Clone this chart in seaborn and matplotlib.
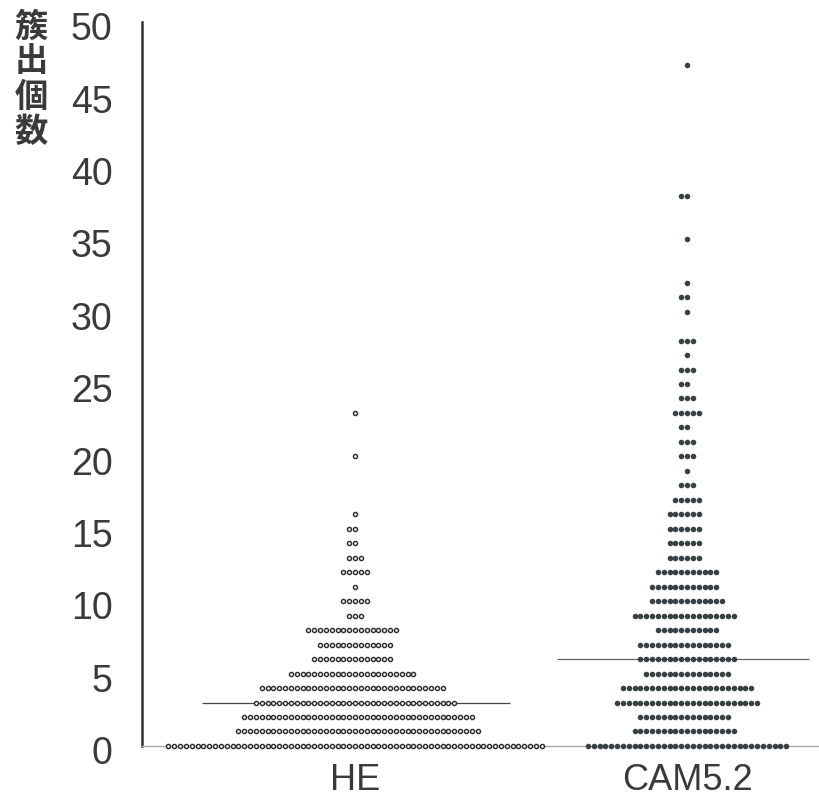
import numpy as np
import pandas as pd
import matplotlib
matplotlib.use("Agg")
import matplotlib.pyplot as plt
import matplotlib.transforms as mtransforms
import seaborn as sns

# values: count level -> number of dots at that level
he_levels = [0, 1, 2, 3, 4, 5, 6, 7, 8, 9, 10, 11, 12, 13, 14, 15, 16, 20, 23]
he_counts = [65, 42, 40, 35, 32, 22, 14, 13, 16, 3, 5, 1, 5, 3, 2, 2, 1, 1, 1]

cam_levels = [0, 1, 2, 3, 4, 5, 6, 7, 8, 9, 10, 11, 12, 13, 14, 15, 16, 17, 18, 19,
              20, 21, 22, 23, 24, 25, 26, 27, 28, 30, 31, 32, 35, 38, 47]
cam_counts = [35, 18, 16, 25, 23, 15, 17, 16, 11, 18, 13, 12, 11, 6, 6, 6, 6, 5, 3, 1,
              3, 3, 2, 5, 3, 2, 3, 1, 3, 1, 2, 1, 1, 2, 1]

groups = ["HE", "CAM5.2"]
ylabel = "簇出個数"

sns.set_style("white")
plt.rcParams["font.family"] = ["Liberation Sans", "Noto Sans CJK JP", "DejaVu Sans"]

he = pd.DataFrame({"pos": 0.0, "val": np.repeat(he_levels, he_counts)})
cam = pd.DataFrame({"pos": 0.5, "val": np.repeat(cam_levels, cam_counts)})

fig = plt.figure(figsize=(8.2, 8.01), dpi=100)
ax = fig.add_axes([0.173, 0.0687, 0.827, 0.9038])

sns.swarmplot(data=he, x="pos", y="val", native_scale=True, orient="x", size=2.95,
              color="white", edgecolor="#2f2f2f", linewidth=1.05, ax=ax)
sns.swarmplot(data=cam, x="pos", y="val", native_scale=True, orient="x", size=4.0,
              color="#384144", edgecolor="#384144", linewidth=0, ax=ax)

for c in ax.collections:
    c.set_clip_on(False)

# median lines
ax.hlines(np.median(he["val"]), -0.23, 0.233, color="#444444", lw=0.9, zorder=0)
ax.hlines(np.median(cam["val"]), 0.304, 0.684, color="#666666", lw=0.9, zorder=0)

ax.set_xlim(-0.321, 0.70)
ax.set_ylim(0, 50)
ax.set_yticks(range(0, 51, 5))
ax.set_xticks([0, 0.5], groups)
ax.set_xlabel("")
ax.set_ylabel("")

ax.tick_params(axis="y", length=10, width=1.6, color="#333333", labelsize=27,
               pad=11, labelcolor="#3a3a3a")
ax.tick_params(axis="x", length=0, labelsize=26, pad=12, labelcolor="#3a3a3a")

# tick labels sit a little below their ticks in the original
shift = mtransforms.ScaledTranslation(0, -3 / 72, fig.dpi_scale_trans)
for lbl in ax.get_yticklabels():
    lbl.set_transform(lbl.get_transform() + shift)

sns.despine(ax=ax)
ax.spines["left"].set_color("#333333")
ax.spines["left"].set_linewidth(1.8)
ax.spines["bottom"].set_color("#aaaaaa")
ax.spines["bottom"].set_linewidth(1.0)

fig.text(0.038, 0.987, "\n".join(ylabel), ha="center", va="top", fontsize=24,
         linespacing=1.08, color="#3a3a3a", fontweight="bold",
         family=["Noto Sans CJK JP", "DejaVu Sans"])

fig.savefig("out.png", dpi=100)
